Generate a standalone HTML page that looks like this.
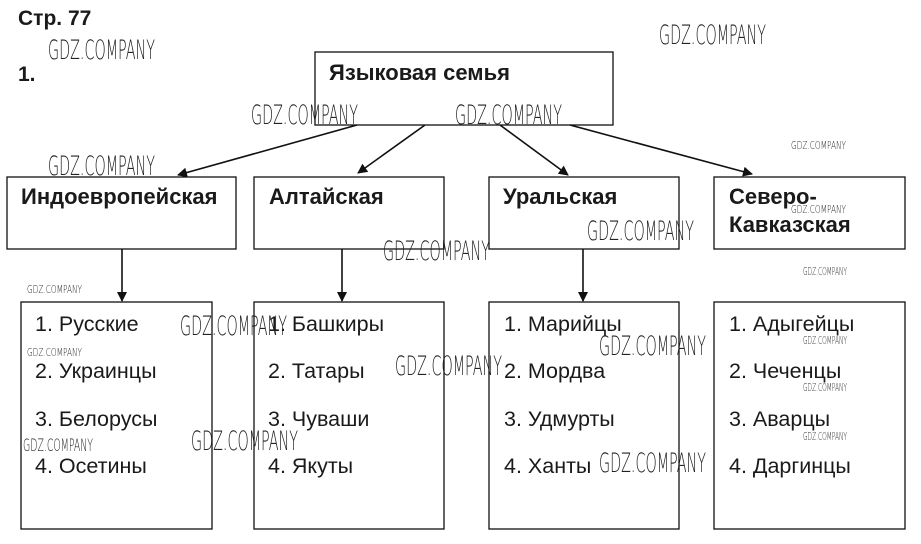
<!DOCTYPE html>
<html><head><meta charset="utf-8"><style>
html,body{margin:0;padding:0;background:#fff;}
svg{display:block;}
.b{font-family:"Liberation Sans","Noto Sans CJK SC",sans-serif;font-weight:bold;font-size:22px;fill:#1a1a1a;}
.r{font-family:"Liberation Sans","Noto Sans CJK SC",sans-serif;font-size:21.5px;fill:#1a1a1a;}
.w{font-family:"DejaVu Sans","Liberation Sans",sans-serif;font-weight:300;fill:#222;}
</style></head><body>
<svg width="921" height="544" viewBox="0 0 921 544" xmlns="http://www.w3.org/2000/svg">
<defs><marker id="a" markerWidth="10" markerHeight="10" refX="9" refY="5" orient="auto" markerUnits="userSpaceOnUse"><path d="M0,0 L10,5 L0,10 Z" fill="#111"/></marker></defs>
<g fill="none" stroke="#111" stroke-width="1.3">
<rect x="315" y="52" width="298" height="73"/>
<rect x="7" y="177" width="229" height="72"/>
<rect x="254" y="177" width="190" height="72"/>
<rect x="489" y="177" width="190" height="72"/>
<rect x="714" y="177" width="191" height="72"/>
<rect x="21" y="302" width="191" height="227"/>
<rect x="254" y="302" width="190" height="227"/>
<rect x="489" y="302" width="190" height="227"/>
<rect x="714" y="302" width="191" height="227"/>
<g stroke-width="1.6" marker-end="url(#a)">
<line x1="357" y1="125" x2="178" y2="175"/>
<line x1="425" y1="125" x2="358" y2="173"/>
<line x1="500" y1="125" x2="568" y2="175"/>
<line x1="570" y1="125" x2="752" y2="174"/>
<line x1="122" y1="249" x2="122" y2="301"/>
<line x1="342" y1="249" x2="342" y2="301"/>
<line x1="583" y1="249" x2="583" y2="301"/>
</g></g>
<text x="18" y="25" class="b" style="font-size:21px">Стр. 77</text>
<text x="18" y="81" class="b" style="font-size:21px">1.</text>
<text x="329" y="80" class="b">Языковая семья</text>
<text x="21" y="204" class="b">Индоевропейская</text>
<text x="269" y="204" class="b">Алтайская</text>
<text x="503" y="204" class="b">Уральская</text>
<text x="729" y="204" class="b">Северо-</text>
<text x="729" y="232" class="b">Кавказская</text>
<g class="r">
<text x="35" y="331">1. Русские</text><text x="35" y="378">2. Украинцы</text><text x="35" y="426">3. Белорусы</text><text x="35" y="473">4. Осетины</text>
<text x="268" y="331">1. Башкиры</text><text x="268" y="378">2. Татары</text><text x="268" y="426">3. Чуваши</text><text x="268" y="473">4. Якуты</text>
<text x="504" y="331">1. Марийцы</text><text x="504" y="378">2. Мордва</text><text x="504" y="426">3. Удмурты</text><text x="504" y="473">4. Ханты</text>
<text x="729" y="331">1. Адыгейцы</text><text x="729" y="378">2. Чеченцы</text><text x="729" y="426">3. Аварцы</text><text x="729" y="473">4. Даргинцы</text>
</g>
<g class="w" style="font-size:27px">
<text x="48" y="59" textLength="107" lengthAdjust="spacingAndGlyphs">GDZ.COMPANY</text>
<text x="659" y="44" textLength="107" lengthAdjust="spacingAndGlyphs">GDZ.COMPANY</text>
<text x="251" y="124" textLength="107" lengthAdjust="spacingAndGlyphs">GDZ.COMPANY</text>
<text x="455" y="124" textLength="107" lengthAdjust="spacingAndGlyphs">GDZ.COMPANY</text>
<text x="48" y="175" textLength="107" lengthAdjust="spacingAndGlyphs">GDZ.COMPANY</text>
<text x="383" y="260" textLength="107" lengthAdjust="spacingAndGlyphs">GDZ.COMPANY</text>
<text x="587" y="240" textLength="107" lengthAdjust="spacingAndGlyphs">GDZ.COMPANY</text>
<text x="180" y="335" textLength="107" lengthAdjust="spacingAndGlyphs">GDZ.COMPANY</text>
<text x="395" y="375" textLength="107" lengthAdjust="spacingAndGlyphs">GDZ.COMPANY</text>
<text x="599" y="355" textLength="107" lengthAdjust="spacingAndGlyphs">GDZ.COMPANY</text>
<text x="191" y="450" textLength="107" lengthAdjust="spacingAndGlyphs">GDZ.COMPANY</text>
<text x="599" y="472" textLength="107" lengthAdjust="spacingAndGlyphs">GDZ.COMPANY</text>
</g>
<g class="w" style="font-size:11px">
<text x="791" y="149" textLength="55" lengthAdjust="spacingAndGlyphs">GDZ.COMPANY</text>
<text x="791" y="213" textLength="55" lengthAdjust="spacingAndGlyphs">GDZ.COMPANY</text>
<text x="803" y="275" textLength="44" lengthAdjust="spacingAndGlyphs">GDZ.COMPANY</text>
<text x="27" y="293" textLength="55" lengthAdjust="spacingAndGlyphs">GDZ.COMPANY</text>
<text x="27" y="356" textLength="55" lengthAdjust="spacingAndGlyphs">GDZ.COMPANY</text>
<text x="803" y="344" textLength="44" lengthAdjust="spacingAndGlyphs">GDZ.COMPANY</text>
<text x="803" y="391" textLength="44" lengthAdjust="spacingAndGlyphs">GDZ.COMPANY</text>
<text x="803" y="440" textLength="44" lengthAdjust="spacingAndGlyphs">GDZ.COMPANY</text>
<text x="23" y="451" style="font-size:17px" textLength="70" lengthAdjust="spacingAndGlyphs">GDZ.COMPANY</text>
</g>
</svg>
</body></html>
